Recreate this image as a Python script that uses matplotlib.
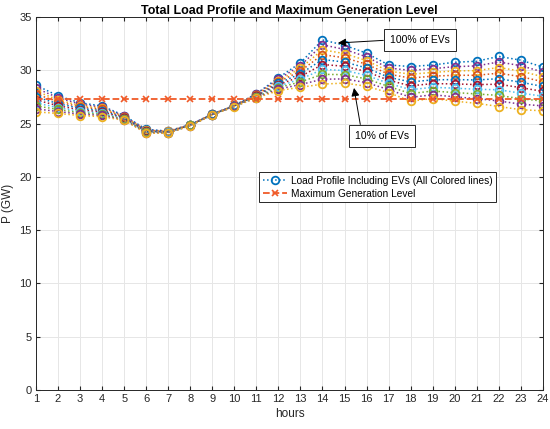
import matplotlib
matplotlib.use("Agg")
import matplotlib.pyplot as plt

plt.rcParams['font.family'] = ['Liberation Sans', 'DejaVu Sans']

hours = list(range(1, 25))

ev100 = [28.60, 27.60, 26.95, 26.65, 25.75, 24.45, 24.30, 24.90, 25.90, 26.70, 27.80, 29.30,
         30.70, 32.85, 32.35, 31.60, 30.50, 30.35, 30.50, 30.75, 30.85, 31.30, 30.95, 30.30]
ev90 = [28.32, 27.42, 26.82, 26.54, 25.70, 24.41, 24.28, 24.89, 25.89, 26.69, 27.76, 29.17,
        30.44, 32.39, 31.96, 31.26, 30.21, 29.99, 30.15, 30.34, 30.41, 30.78, 30.43, 29.84]
ev80 = [28.04, 27.23, 26.68, 26.43, 25.65, 24.37, 24.26, 24.88, 25.88, 26.68, 27.71, 29.03,
        30.19, 31.93, 31.56, 30.91, 29.92, 29.63, 29.80, 29.94, 29.97, 30.26, 29.92, 29.39]
ev70 = [27.77, 27.05, 26.55, 26.32, 25.60, 24.33, 24.23, 24.87, 25.87, 26.67, 27.67, 28.90,
        29.93, 31.47, 31.17, 30.57, 29.63, 29.27, 29.45, 29.53, 29.53, 29.73, 29.40, 28.93]
ev60 = [27.49, 26.87, 26.42, 26.21, 25.55, 24.29, 24.21, 24.86, 25.86, 26.66, 27.62, 28.77,
        29.68, 31.01, 30.77, 30.22, 29.34, 28.91, 29.10, 29.13, 29.09, 29.21, 28.88, 28.48]
ev50 = [27.21, 26.68, 26.28, 26.09, 25.50, 24.26, 24.19, 24.84, 25.84, 26.64, 27.58, 28.63,
        29.42, 30.54, 30.38, 29.88, 29.06, 28.54, 28.75, 28.72, 28.66, 28.69, 28.37, 28.02]
ev40 = [26.93, 26.50, 26.15, 25.98, 25.45, 24.22, 24.17, 24.83, 25.83, 26.63, 27.53, 28.50,
        29.17, 30.08, 29.98, 29.53, 28.77, 28.18, 28.40, 28.32, 28.22, 28.17, 27.85, 27.57]
ev30 = [26.66, 26.32, 26.02, 25.87, 25.40, 24.18, 24.14, 24.82, 25.82, 26.62, 27.49, 28.37,
        28.91, 29.62, 29.59, 29.19, 28.48, 27.82, 28.05, 27.91, 27.78, 27.64, 27.33, 27.11]
ev20 = [26.38, 26.13, 25.88, 25.76, 25.35, 24.14, 24.12, 24.81, 25.81, 26.61, 27.44, 28.23,
        28.66, 29.16, 29.19, 28.84, 28.19, 27.46, 27.70, 27.51, 27.34, 27.12, 26.82, 26.66]
ev10 = [26.10, 25.95, 25.75, 25.65, 25.30, 24.10, 24.10, 24.80, 25.80, 26.60, 27.40, 28.10,
        28.40, 28.70, 28.80, 28.50, 27.90, 27.10, 27.35, 27.10, 26.90, 26.60, 26.30, 26.20]

max_gen = [27.35] * 24

series = [ev100, ev90, ev80, ev70, ev60, ev50, ev40, ev30, ev20, ev10]
colors = ['#0072BD', '#7E2F8E', '#EDB120', '#D95319', '#0072BD', '#A2142F',
          '#4DBEEE', '#77AC30', '#7E2F8E', '#EDB120']

fig = plt.figure(figsize=(5.5, 4.29), dpi=100)
ax = fig.add_axes([0.0655, 0.0909, 0.9215, 0.8695])

for i, (s, c) in enumerate(zip(series, colors)):
    ax.plot(hours, s, linestyle=':', color=c, linewidth=1.1, marker='o',
            markersize=5.5, markerfacecolor='none', markeredgecolor=c,
            markeredgewidth=1.3,
            label='Load Profile Including EVs (All Colored lines)' if i == 0 else None)

ax.plot(hours, max_gen, linestyle='--', color='#F05A28', linewidth=1.3, marker='x',
        markersize=5, markeredgewidth=1.2, label='Maximum Generation Level')

ax.set_xlim(1, 24)
ax.set_ylim(0, 35)
ax.set_xticks(hours)
ax.set_yticks(range(0, 36, 5))
ax.grid(True, color='#E6E6E6', linewidth=0.7)
ax.set_axisbelow(True)
ax.tick_params(direction='in', top=True, right=True, labelsize=8, length=3,
               color='#262626', labelcolor='#262626', pad=3)
for sp in ax.spines.values():
    sp.set_color('#262626')
    sp.set_linewidth(0.7)

ax.set_title('Total Load Profile and Maximum Generation Level', fontsize=9,
             fontweight='bold', pad=2, color='black')
ax.set_xlabel('hours', fontsize=8.5, labelpad=3, color='#262626')
ax.set_ylabel('P (GW)', fontsize=8.5, labelpad=4, color='#262626')

leg = ax.legend(loc='upper right', bbox_to_anchor=(0.918, 0.598), fontsize=7.3,
                frameon=True, fancybox=False, edgecolor='#262626', framealpha=1,
                borderpad=0.35, handlelength=2.4, handletextpad=0.4, labelspacing=0.3)
leg.get_frame().set_linewidth(0.7)

bbox = dict(boxstyle='square,pad=0.6', facecolor='white', edgecolor='#262626', linewidth=0.7)
ax.annotate('100% of EVs', xy=(14.7, 32.56), xytext=(18.42, 32.84), textcoords='data',
            fontsize=7.5, ha='center', va='center', bbox=bbox,
            arrowprops=dict(arrowstyle='-|>', color='black', lw=0.7, relpos=(0, 0.5),
                            mutation_scale=12, shrinkA=0, shrinkB=0))
ax.annotate('10% of EVs', xy=(15.43, 28.34), xytext=(16.70, 23.83), textcoords='data',
            fontsize=7.5, ha='center', va='center', bbox=bbox,
            arrowprops=dict(arrowstyle='-|>', color='black', lw=0.7, relpos=(0.12, 1),
                            mutation_scale=12, shrinkA=0, shrinkB=0))

fig.savefig('out.png', dpi=100)
